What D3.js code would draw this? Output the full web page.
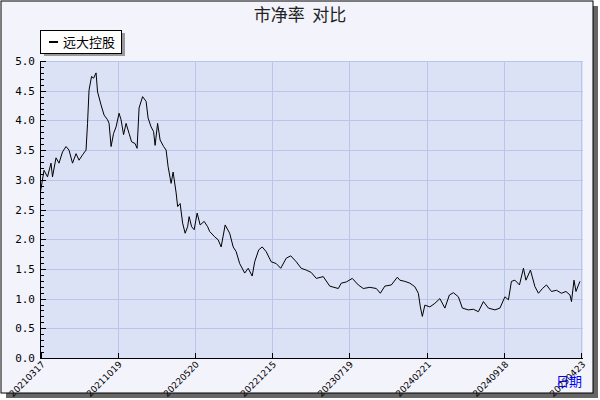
<!DOCTYPE html>
<html><head><meta charset="utf-8">
<script src="https://cdn.jsdelivr.net/npm/d3@7"></script>
<style>body{margin:0;background:#fff}</style>
</head><body><div id="chart"></div>
<script>
// trading-day index and price-to-book values
const days = [0,7,14,21,24,31,37,44,51,57,64,71,77,84,91,94,97,102,106,111,114,121,127,134,137,141,146,151,157,161,166,171,177,182,189,193,197,204,211,215,221,226,229,234,239,246,251,255,261,265,271,274,279,284,289,294,297,302,307,313,319,327,334,
  338,348,355,361,369,378,385,391,398,408,415,423,428,436,443,451,461,471,480,491,500,511,521,531,541,551,565,578,595,601,611,623,635,645,658,671,679,688,701,713,
  718,728,738,748,755,759,763,768,778,788,798,808,817,825,835,843,855,865,875,885,895,908,918,928,935,941,948,957,965,970,979,988,995,1003,1011,1021,1031,1041,1050,1058,1061,1066,1070,1075,1078];
const values = [2.8,3.16,3.05,3.28,3.05,3.37,3.28,3.47,3.56,3.5,3.28,3.44,3.33,3.42,3.5,3.95,4.51,4.74,4.71,4.8,4.48,4.26,4.09,4.01,3.95,3.56,3.78,3.89,4.12,4.01,3.76,3.95,3.78,3.64,3.61,3.53,4.21,4.4,4.32,4.04,3.89,3.81,3.58,3.95,3.67,3.56,3.5,3.22,2.94,3.13,2.78,2.55,2.6,2.27,2.1,2.21,2.38,2.21,2.16,2.44,2.24,2.3,2.21,
  2.13,2.04,1.99,1.87,2.24,2.1,1.87,1.79,1.59,1.43,1.51,1.38,1.62,1.82,1.87,1.79,1.62,1.59,1.51,1.68,1.72,1.62,1.51,1.48,1.44,1.34,1.37,1.21,1.17,1.26,1.28,1.34,1.23,1.17,1.19,1.17,1.09,1.21,1.23,1.36,
  1.31,1.29,1.26,1.2,1.09,0.86,0.7,0.89,0.86,0.92,1.0,0.84,1.06,1.1,1.03,0.84,0.81,0.82,0.78,0.95,0.84,0.81,0.84,1.03,0.98,1.29,1.31,1.23,1.51,1.31,1.48,1.2,1.09,1.17,1.23,1.12,1.14,1.09,1.12,1.06,0.95,1.31,1.12,1.23,1.29];
const tickDays = [0,154,308,462,616,772,926,1080];
const tickLabels = ["20210317","20211019","20220520","20221215","20230719","20240221","20240918","20250423"];
const seriesName = "远大控股";

const W = 600, H = 400;
const margin = {top: 61, right: 17, bottom: 42, left: 40};
const svg = d3.select("#chart").append("svg").attr("width", W).attr("height", H)
  .style("font-family", "'DejaVu Sans', sans-serif");

// frame with shadow
svg.append("rect").attr("x", 6).attr("y", 6).attr("width", 592).attr("height", 392).attr("fill", "#666");
svg.append("rect").attr("x", 1).attr("y", 1).attr("width", 592).attr("height", 392)
  .attr("fill", "#f3f3fb").attr("stroke", "#000");

svg.append("text").attr("x", 300).attr("y", 21).attr("text-anchor", "middle")
  .attr("font-family", "'Noto Sans CJK SC', sans-serif").attr("font-size", 17).attr("fill", "#222")
  .style("white-space", "pre").text("市净率  对比");

const x = d3.scaleLinear().domain([-1, 1084]).range([margin.left, W - margin.right]);
const y = d3.scaleLinear().domain([0, 5]).range([H - margin.bottom, margin.top]);

svg.append("rect").attr("x", x(-1)).attr("y", y(5)).attr("width", x(1084) - x(-1)).attr("height", y(0) - y(5))
  .attr("fill", "#dce2f6");

const grid = svg.append("g").attr("stroke", "#b9c5ea").attr("stroke-width", 1);
grid.selectAll(".h").data(d3.range(0.5, 5.01, 0.5)).join("line")
  .attr("x1", x(-1)).attr("x2", x(1084)).attr("y1", d => Math.round(y(d)) + 0.5).attr("y2", d => Math.round(y(d)) + 0.5);
grid.selectAll(".v").data(tickDays.slice(1)).join("line")
  .attr("y1", y(0)).attr("y2", y(5)).attr("x1", d => Math.round(x(d)) + 0.5).attr("x2", d => Math.round(x(d)) + 0.5);

// y axis: ticks inside
const yAxis = svg.append("g").attr("transform", `translate(${margin.left},0)`);
yAxis.append("line").attr("x1", 0.5).attr("x2", 0.5).attr("y1", y(0)).attr("y2", y(5)).attr("stroke", "#000");
yAxis.selectAll(".minor").data(d3.range(0, 50.5, 1).map(d => d / 10)).join("line")
  .attr("x1", 0).attr("x2", d => (Math.round(d * 10) % 5 === 0 ? 6 : 4))
  .attr("y1", d => Math.round(y(d)) + 0.5).attr("y2", d => Math.round(y(d)) + 0.5).attr("stroke", "#000");
yAxis.selectAll("text").data(d3.range(0, 5.01, 0.5)).join("text")
  .attr("x", -5).attr("y", d => y(d) + 4).attr("text-anchor", "end")
  .attr("font-size", 11).attr("font-family", "'DejaVu Sans Mono', monospace").text(d => d.toFixed(1));

// x axis
const xAxis = svg.append("g");
xAxis.append("line").attr("x1", x(-1)).attr("x2", x(1084)).attr("y1", y(0) + 0.5).attr("y2", y(0) + 0.5).attr("stroke", "#000");
xAxis.selectAll(".t").data(tickDays).join("line")
  .attr("x1", d => Math.round(x(d)) + 0.5).attr("x2", d => Math.round(x(d)) + 0.5)
  .attr("y1", y(0)).attr("y2", y(0) - 5).attr("stroke", "#000");
xAxis.selectAll("text").data(tickDays).join("text")
  .attr("transform", d => `translate(${x(d) + 5},${y(0) + 7}) rotate(-45)`)
  .attr("text-anchor", "end").attr("font-size", 9).text((d, i) => tickLabels[i]);
svg.append("text").attr("x", 582).attr("y", 386).attr("text-anchor", "end").attr("fill", "#0000ff")
  .attr("font-family", "'Noto Sans CJK SC', sans-serif").attr("font-size", 13).text("日期");

// series line
const line = d3.line().x((d, i) => x(days[i])).y(d => y(d));
svg.append("path").datum(values).attr("d", line).attr("fill", "none").attr("stroke", "#000").attr("stroke-width", 1);

// legend
const lg = svg.append("g");
lg.append("rect").attr("x", 44).attr("y", 33).attr("width", 81).attr("height", 23).attr("fill", "#999");
lg.append("rect").attr("x", 40.5).attr("y", 30.5).attr("width", 81).attr("height", 23).attr("fill", "#fff").attr("stroke", "#000");
lg.append("line").attr("x1", 49).attr("x2", 58).attr("y1", 42).attr("y2", 42).attr("stroke", "#000").attr("stroke-width", 2);
lg.append("text").attr("x", 63).attr("y", 47).attr("font-size", 13)
  .attr("font-family", "'Noto Sans CJK SC', sans-serif").text(seriesName);
</script></body></html>
